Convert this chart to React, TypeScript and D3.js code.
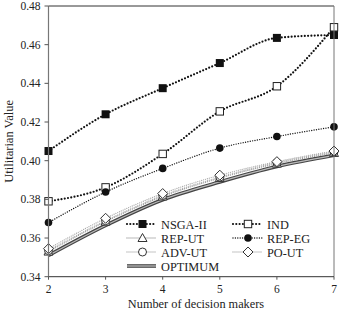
import React from "react";
import * as d3 from "d3";

const xValues = [2, 3, 4, 5, 6, 7];
const nsga = [0.405, 0.424, 0.4375, 0.4505, 0.4635, 0.465];
const ind = [0.379, 0.3862, 0.4035, 0.4255, 0.4385, 0.469];
const repEg = [0.368, 0.3838, 0.396, 0.4065, 0.4125, 0.4175];
const repUt = [0.353, 0.3685, 0.3815, 0.391, 0.3985, 0.404];
const advUt = [0.3535, 0.369, 0.382, 0.3915, 0.399, 0.4045];
const poUt = [0.3545, 0.3702, 0.383, 0.3925, 0.3995, 0.405];
const optimum = [0.351, 0.3665, 0.3798, 0.389, 0.397, 0.4028];
const yTicks = [0.34, 0.36, 0.38, 0.4, 0.42, 0.44, 0.46, 0.48];

const W = 342, H = 313;
const L = 48.5, R = 334, T = 6, B = 276.7;
const FONT = "'Liberation Serif', 'Times New Roman', serif";

type Marker = "sqF" | "sqO" | "tri" | "cirF" | "cirO" | "dia";

function MarkerShape({ type, x, y }: { type: Marker; x: number; y: number }) {
  switch (type) {
    case "sqF":
      return <rect x={x - 4} y={y - 4} width={8} height={8} fill="#111" />;
    case "sqO":
      return <rect x={x - 3.7} y={y - 3.7} width={7.4} height={7.4} fill="#fff" stroke="#222" strokeWidth={1} />;
    case "tri":
      return <path d={`M${x},${y - 4.5}L${x + 4.5},${y + 3.5}L${x - 4.5},${y + 3.5}Z`} fill="#fff" stroke="#333" strokeWidth={1} />;
    case "cirF":
      return <circle cx={x} cy={y} r={3.8} fill="#111" />;
    case "cirO":
      return <circle cx={x} cy={y} r={4} fill="#fff" stroke="#333" strokeWidth={1} />;
    case "dia":
      return <path d={`M${x},${y - 5}L${x + 5},${y}L${x},${y + 5}L${x - 5},${y}Z`} fill="#fff" stroke="#333" strokeWidth={1} />;
  }
}

const series: { name: string; data: number[]; marker: Marker; color: string; dash: string; width: number }[] = [
  { name: "NSGA-II", data: nsga, marker: "sqF", color: "#111", dash: "0 3.3", width: 2.2 },
  { name: "IND", data: ind, marker: "sqO", color: "#111", dash: "0 3.3", width: 2.2 },
  { name: "REP-UT", data: repUt, marker: "tri", color: "#999", dash: "0 2", width: 1.3 },
  { name: "REP-EG", data: repEg, marker: "cirF", color: "#111", dash: "0 2.4", width: 1.4 },
  { name: "ADV-UT", data: advUt, marker: "cirO", color: "#aaa", dash: "0 2", width: 1.3 },
  { name: "PO-UT", data: poUt, marker: "dia", color: "#aaa", dash: "0 2", width: 1.3 },
];

export default function App() {
  const x = d3.scaleLinear().domain([2, 7]).range([L, R]);
  const y = d3.scaleLinear().domain([0.34, 0.48]).range([B, T]);
  const line = d3
    .line<number>()
    .x((_, i) => x(xValues[i]))
    .y((d) => y(d))
    .curve(d3.curveMonotoneX);

  const legendRows = [224, 238, 252, 266];
  const legendCols = [{ l0: 127, l1: 156, m: 142.5, t: 161 }, { l0: 233, l1: 262, m: 248, t: 267 }];

  return (
    <svg width={W} height={H} style={{ position: "absolute", left: 0, top: 0, background: "#fff" }}>
      <path d={line(optimum) || ""} fill="none" stroke="#444" strokeWidth={3.6} />
      <path d={line(optimum) || ""} fill="none" stroke="#bbb" strokeWidth={1.3} />
      {series.map((s) => (
        <path key={s.name} d={line(s.data) || ""} fill="none" stroke={s.color} strokeWidth={s.width} strokeDasharray={s.dash} strokeLinecap="round" />
      ))}
      {series.map((s) => (
        <g key={s.name + "m"}>
          {s.data.map((v, i) => (
            <MarkerShape key={i} type={s.marker} x={x(xValues[i])} y={y(v)} />
          ))}
        </g>
      ))}
      <line x1={L} x2={R} y1={T} y2={T} stroke="#333" strokeWidth={1} />
      <line x1={R} x2={R} y1={T} y2={B} stroke="#777" strokeWidth={1} />
      <line x1={L} x2={L} y1={T} y2={B} stroke="#777" strokeWidth={1.2} />
      <line x1={L} x2={R} y1={B} y2={B} stroke="#333" strokeWidth={1} />
      {yTicks.map((t) => (
        <g key={t}>
          <line x1={L - 4} x2={L} y1={y(t)} y2={y(t)} stroke="#555" />
          <text x={L - 8} y={y(t) + 4} textAnchor="end" fontFamily={FONT} fontSize={11.5} fill="#222">
            {t.toFixed(2)}
          </text>
        </g>
      ))}
      {xValues.map((t) => (
        <g key={t}>
          <line x1={x(t)} x2={x(t)} y1={B} y2={B + 3} stroke="#555" />
          <text x={x(t)} y={B + 16} textAnchor="middle" fontFamily={FONT} fontSize={11.5} fill="#222">
            {t}
          </text>
        </g>
      ))}
      <text x={196} y={308} textAnchor="middle" fontFamily={FONT} fontSize={12.3} fill="#222">
        Number of decision makers
      </text>
      <text transform={`translate(13,${(T + B) / 2}) rotate(-90)`} textAnchor="middle" fontFamily={FONT} fontSize={12.5} fill="#222">
        Utilitarian Value
      </text>
      {series.map((s, i) => {
        const c = legendCols[i % 2];
        const ry = legendRows[Math.floor(i / 2)];
        return (
          <g key={s.name + "l"}>
            <line x1={c.l0} x2={c.l1} y1={ry} y2={ry} stroke={s.color} strokeWidth={s.width} strokeDasharray={s.dash} strokeLinecap="round" />
            <MarkerShape type={s.marker} x={c.m} y={ry} />
            <text x={c.t} y={ry + 4.5} fontFamily={FONT} fontSize={12.3} fill="#222">
              {s.name}
            </text>
          </g>
        );
      })}
      <line x1={127} x2={156} y1={266} y2={266} stroke="#444" strokeWidth={3.6} />
      <line x1={127} x2={156} y1={266} y2={266} stroke="#bbb" strokeWidth={1.3} />
      <text x={161} y={270.5} fontFamily={FONT} fontSize={12.3} fill="#222">
        OPTIMUM
      </text>
    </svg>
  );
}
